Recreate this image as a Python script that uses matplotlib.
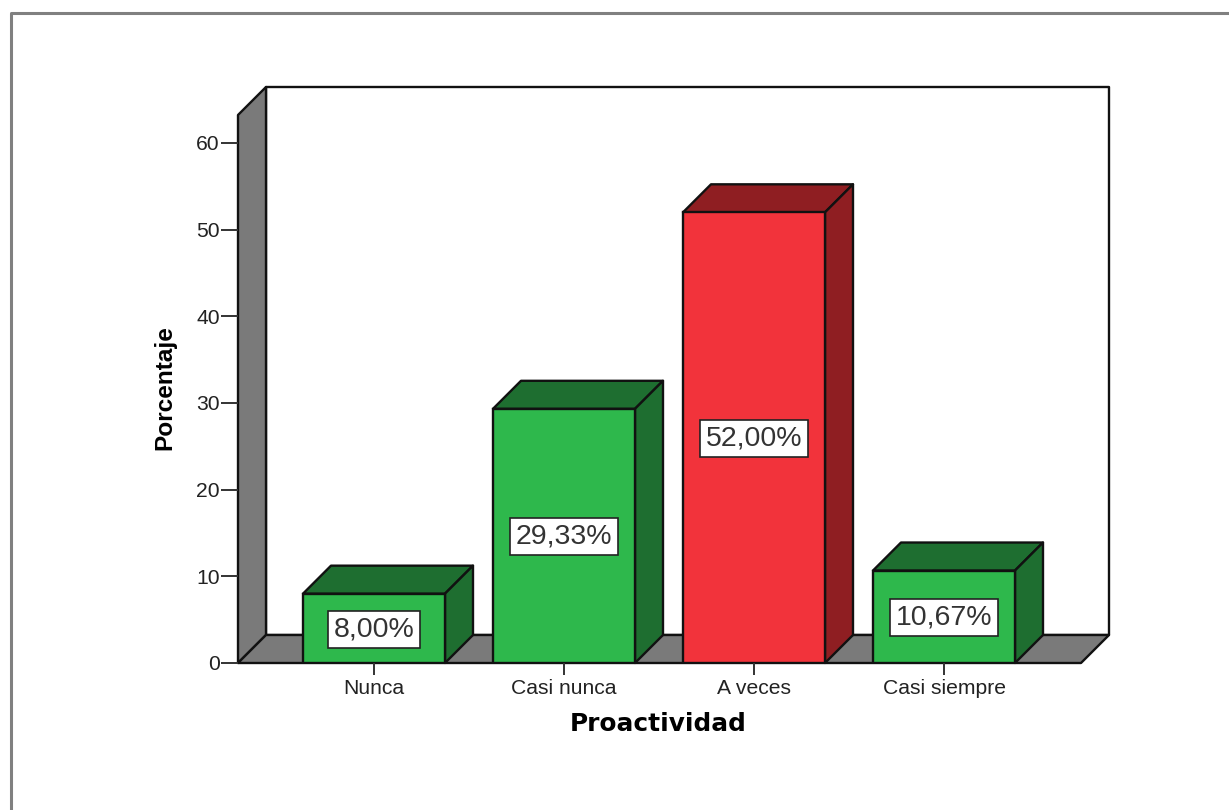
import matplotlib
matplotlib.use('Agg')
import matplotlib.pyplot as plt
from matplotlib.patches import Polygon, Rectangle

plt.rcParams['font.family'] = ['Liberation Sans', 'DejaVu Sans']

categories = ['Nunca', 'Casi nunca', 'A veces', 'Casi siempre']
values = [8.00, 29.33, 52.00, 10.67]
labels = ['8,00%', '29,33%', '52,00%', '10,67%']
yticks = [0, 10, 20, 30, 40, 50, 60]

GREEN = ('#2eb84c', '#1e6e30')
RED = ('#f2333b', '#8f1e22')
bar_colors = [GREEN, GREEN, RED, GREEN]
WALL = '#7a7a7a'

W, H = 1229, 810
fig = plt.figure(figsize=(W / 100, H / 100), dpi=100)

# outer frame of the chart window, open on the right and at the bottom
fig.add_artist(plt.Line2D([10.5 / W, 10.5 / W, 1], [0, 1 - 13 / H, 1 - 13 / H],
                          color='#808080', lw=2.2))

# axes box is the front face of the 3d box
left, right, bottom, top = 238, 1081, 663, 115
ax = fig.add_axes([left / W, 1 - bottom / H, (right - left) / W, (bottom - top) / H])
ax.set_xlim(-136 / 190, 707 / 190)
ax.set_ylim(0, (bottom - top) / 8.667)
ax.patch.set_visible(False)
for s in ax.spines.values():
    s.set_visible(False)

# depth of the box in data units (28 px both ways)
dx = 28 / 190
dy = 28 / 8.667
x0, x1 = ax.get_xlim()
y1 = ax.get_ylim()[1]
edge = dict(edgecolor='#111111', linewidth=1.7, joinstyle='round', clip_on=False)

ax.add_patch(Rectangle((x0 + dx, dy), x1 - x0, y1 - 0, facecolor='white', zorder=1, **edge))
ax.add_patch(Polygon([(x0, 0), (x0 + dx, dy), (x0 + dx, y1 + dy), (x0, y1)],
                     facecolor=WALL, zorder=1.5, **edge))
ax.add_patch(Polygon([(x0, 0), (x0 + dx, dy), (x1 + dx, dy), (x1, 0)],
                     facecolor=WALL, zorder=1.5, **edge))

bar_w = 142 / 190
for i, v in enumerate(values):
    front, dark = bar_colors[i]
    a, b = i - bar_w / 2, i + bar_w / 2
    ax.add_patch(Polygon([(a, v), (a + dx, v + dy), (b + dx, v + dy), (b, v)],
                         facecolor=dark, zorder=3, **edge))
    ax.add_patch(Polygon([(b, 0), (b + dx, dy), (b + dx, v + dy), (b, v)],
                         facecolor=dark, zorder=3, **edge))
    ax.bar(i, v, width=bar_w, color=front, edgecolor='#111111', linewidth=1.7, zorder=4)
    ax.text(i, v / 2 - 0.1, labels[i], ha='center', va='center', fontsize=20.5, color='#333333',
            zorder=5, bbox=dict(boxstyle='square,pad=0.2', facecolor='white',
                                edgecolor='#222222', linewidth=1.2))

ax.set_xticks(range(len(categories)))
ax.set_xticklabels(categories, fontsize=15.2, color='#222222')
ax.set_yticks(yticks)
ax.set_yticklabels([str(t) for t in yticks], fontsize=15.2, color='#222222')
ax.tick_params(axis='x', length=8.5, width=1.4, pad=3, color='#333333')
ax.tick_params(axis='y', length=12, width=1.4, pad=1, color='#333333')

fig.text(658 / W, 1 - 724 / H, 'Proactividad', ha='center', va='center',
         fontsize=17.8, fontweight='bold', family='DejaVu Sans', color='black')
fig.text(165 / W, 1 - 388 / H, 'Porcentaje', ha='center', va='center', rotation=90,
         fontsize=17.6, fontweight='bold', color='black')

fig.savefig('out.png', dpi=100)
